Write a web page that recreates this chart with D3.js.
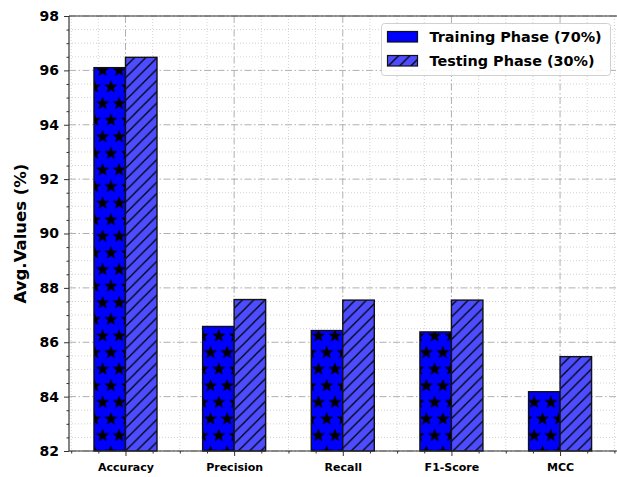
<!DOCTYPE html>
<html>
<head>
<meta charset="utf-8">
<script src="https://cdn.jsdelivr.net/npm/d3@7"></script>
<style>
  html, body { margin: 0; padding: 0; background: #fff; }
  svg { display: block; font-family: "DejaVu Sans", sans-serif; }
</style>
</head>
<body>
<svg id="chart" width="617" height="477"></svg>
<script>
// Metric names along the x axis
const categories = ["Accuracy", "Precision", "Recall", "F1-Score", "MCC"];
// Average values (%) for each phase
const trainingValues = [96.1, 86.58, 86.43, 86.38, 84.18];
const testingValues  = [96.48, 87.57, 87.55, 87.55, 85.47];
const seriesNames = ["Training Phase (70%)", "Testing Phase (30%)"];
const yTicks = [82, 84, 86, 88, 90, 92, 94, 96, 98];

const plot = { left: 69, right: 622, top: 16, bottom: 451 };
const barW = 0.29;

const svg = d3.select("#chart");
const defs = svg.append("defs");

const starPath = (cx, cy, R, r) => {
  const pts = [];
  for (let k = 0; k < 10; k++) {
    const a = -Math.PI / 2 + k * Math.PI / 5;
    const rad = k % 2 === 0 ? R : r;
    pts.push([cx + rad * Math.cos(a), cy + rad * Math.sin(a)]);
  }
  return "M" + pts.map(p => p.join(",")).join("L") + "Z";
};

// Star hatch on solid blue (tiled in user space so bars share one grid)
const sp = 16.6;
const stars = defs.append("pattern")
  .attr("id", "starHatch")
  .attr("patternUnits", "userSpaceOnUse")
  .attr("x", 3).attr("y", 4)
  .attr("width", sp).attr("height", sp * 2);
stars.append("rect").attr("width", sp).attr("height", sp * 2).attr("fill", "#0000ff");
[[0, 0], [sp, 0], [0, 2 * sp], [sp, 2 * sp], [sp / 2, sp]].forEach(([cx, cy]) => {
  stars.append("path").attr("d", starPath(cx, cy, 7, 2.9)).attr("fill", "#000");
});

// Legend key fill: blue with a single star peeking in from below
const key = defs.append("pattern")
  .attr("id", "starHatchKey")
  .attr("patternUnits", "userSpaceOnUse")
  .attr("width", 60).attr("height", 60);
key.append("rect").attr("width", 60).attr("height", 60).attr("fill", "#0000ff");
key.append("path").attr("d", starPath(15, 17, 7, 2.9)).attr("fill", "#000");

// Diagonal hatch on lighter blue
const hs = 11.3;
const diag = defs.append("pattern")
  .attr("id", "diagHatch")
  .attr("patternUnits", "userSpaceOnUse")
  .attr("width", hs).attr("height", hs);
diag.append("rect").attr("width", hs).attr("height", hs).attr("fill", "#4d4dff");
diag.append("path")
  .attr("d", `M0,${hs} L${hs},0 M${-hs/2},${hs/2} L${hs/2},${-hs/2} M${hs/2},${hs*1.5} L${hs*1.5},${hs/2}`)
  .attr("stroke", "#000").attr("stroke-width", 1.3);

const x = d3.scaleLinear().domain([-0.52, 4.57]).range([plot.left, plot.right]);
const y = d3.scaleLinear().domain([82, 98]).range([plot.bottom, plot.top]);

const g = svg.append("g");

// Minor grid (dotted)
const xMinor = d3.range(-0.5, 4.51, 0.25).filter(v => Math.abs(v - Math.round(v)) > 1e-6);
const yMinor = d3.range(82, 98.01, 0.5).filter(v => Math.abs(v - Math.round(v / 2) * 2) > 1e-6);
g.selectAll(".xmin").data(xMinor).enter().append("line")
  .attr("x1", d => x(d)).attr("x2", d => x(d))
  .attr("y1", plot.top).attr("y2", plot.bottom)
  .attr("stroke", "#c8c8c8").attr("stroke-width", 0.8).attr("stroke-dasharray", "1,2");
g.selectAll(".ymin").data(yMinor).enter().append("line")
  .attr("x1", plot.left).attr("x2", plot.right)
  .attr("y1", d => y(d)).attr("y2", d => y(d))
  .attr("stroke", "#c8c8c8").attr("stroke-width", 0.8).attr("stroke-dasharray", "1,2");

// Major grid (dash-dot)
g.selectAll(".xmaj").data(d3.range(categories.length)).enter().append("line")
  .attr("x1", d => x(d)).attr("x2", d => x(d))
  .attr("y1", plot.top).attr("y2", plot.bottom)
  .attr("stroke", "#b0b0b0").attr("stroke-width", 1).attr("stroke-dasharray", "7,2.5,1.5,2.5");
g.selectAll(".ymaj").data(yTicks).enter().append("line")
  .attr("x1", plot.left).attr("x2", plot.right)
  .attr("y1", d => y(d)).attr("y2", d => y(d))
  .attr("stroke", "#b0b0b0").attr("stroke-width", 1).attr("stroke-dasharray", "7,2.5,1.5,2.5");

// Bars
const bars = g.append("g");
bars.selectAll(".train").data(trainingValues).enter().append("rect")
  .attr("x", (d, i) => x(i - barW)).attr("width", (d, i) => x(i) - x(i - barW))
  .attr("y", d => y(d)).attr("height", d => y(82) - y(d))
  .attr("fill", "url(#starHatch)").attr("stroke", "#111").attr("stroke-width", 1.4);
bars.selectAll(".test").data(testingValues).enter().append("rect")
  .attr("x", (d, i) => x(i)).attr("width", (d, i) => x(i + barW) - x(i))
  .attr("y", d => y(d)).attr("height", d => y(82) - y(d))
  .attr("fill", "url(#diagHatch)").attr("stroke", "#111").attr("stroke-width", 1.4);

// Spines
const spine = "#333";
g.append("line").attr("x1", plot.left).attr("x2", plot.right).attr("y1", plot.top).attr("y2", plot.top)
  .attr("stroke", spine).attr("stroke-width", 1.2);
g.append("line").attr("x1", plot.left).attr("x2", plot.right).attr("y1", plot.bottom).attr("y2", plot.bottom)
  .attr("stroke", spine).attr("stroke-width", 1.2);
g.append("line").attr("x1", plot.left).attr("x2", plot.left).attr("y1", plot.top).attr("y2", plot.bottom)
  .attr("stroke", spine).attr("stroke-width", 1.2);

// Y axis
const yAxis = d3.axisLeft(y).tickValues(yTicks).tickSize(5).tickPadding(5).tickFormat(d3.format("d"));
const yG = svg.append("g").attr("transform", `translate(${plot.left},0)`).call(yAxis);
yG.select(".domain").remove();
yG.selectAll(".tick line").attr("stroke", spine);
yG.selectAll(".tick text").attr("font-size", 14).attr("font-weight", "bold")
  .attr("font-family", "DejaVu Sans").attr("fill", "#000");
const yMinorG = svg.append("g").attr("transform", `translate(${plot.left},0)`)
  .call(d3.axisLeft(y).tickValues(yMinor).tickSize(2.5).tickFormat(""));
yMinorG.select(".domain").remove();
yMinorG.selectAll(".tick line").attr("stroke", spine);

// X axis
const xAxis = d3.axisBottom(x).tickValues(d3.range(categories.length)).tickSize(5).tickPadding(7)
  .tickFormat(i => categories[i]);
const xG = svg.append("g").attr("transform", `translate(0,${plot.bottom})`).call(xAxis);
xG.select(".domain").remove();
xG.selectAll(".tick line").attr("stroke", spine);
xG.selectAll(".tick text").attr("font-size", 11).attr("font-weight", "bold")
  .attr("font-family", "DejaVu Sans").attr("fill", "#000");
const xMinorG = svg.append("g").attr("transform", `translate(0,${plot.bottom})`)
  .call(d3.axisBottom(x).tickValues(xMinor).tickSize(2.5).tickFormat(""));
xMinorG.select(".domain").remove();
xMinorG.selectAll(".tick line").attr("stroke", spine);

// Y axis title
svg.append("text")
  .attr("transform", `translate(26,${(plot.top + plot.bottom) / 2}) rotate(-90)`)
  .attr("text-anchor", "middle")
  .attr("font-size", 16.5).attr("font-weight", "bold").attr("fill", "#000")
  .text("Avg.Values (%)");

// Legend
const lg = svg.append("g").attr("transform", "translate(381.5,23.5)");
lg.append("rect").attr("width", 229).attr("height", 52).attr("rx", 3)
  .attr("fill", "#fff").attr("fill-opacity", 0.85).attr("stroke", "#d0d0d0");
const fills = ["url(#starHatchKey)", "url(#diagHatch)"];
seriesNames.forEach((name, i) => {
  const row = lg.append("g").attr("transform", `translate(6,${8 + i * 24})`);
  row.append("rect").attr("width", 30).attr("height", 10.5)
    .attr("fill", fills[i]).attr("stroke", "#111").attr("stroke-width", 1.2);
  row.append("text").attr("x", 42).attr("y", 10.5)
    .attr("font-size", 14.4).attr("font-weight", "bold").attr("fill", "#000")
    .text(name);
});
</script>
</body>
</html>
